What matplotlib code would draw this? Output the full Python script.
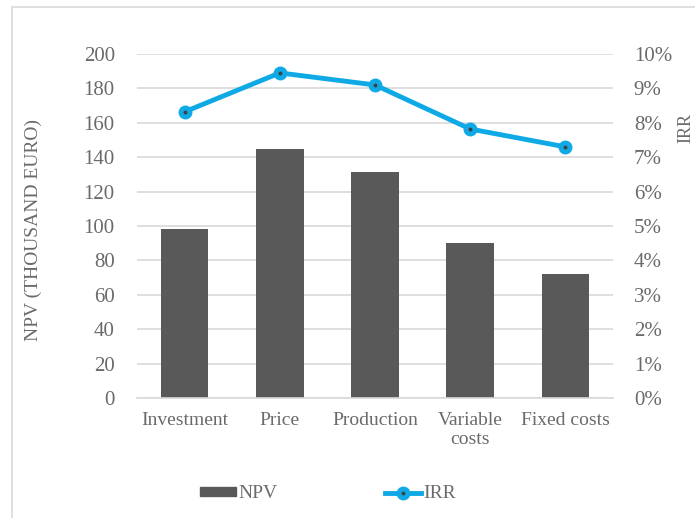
import matplotlib.pyplot as plt
from matplotlib.patches import Rectangle
from matplotlib.lines import Line2D
from matplotlib.ticker import PercentFormatter

categories = ['Investment', 'Price', 'Production', 'Variable\ncosts', 'Fixed costs']
npv = [98, 145, 131.5, 90, 72]
irr = [8.32, 9.45, 9.1, 7.82, 7.3]

grey_text = '#6a6a6a'
bar_color = '#595959'
line_color = '#0FAAE6'

plt.rcParams['font.family'] = ['Liberation Serif', 'DejaVu Serif']
plt.rcParams['font.size'] = 14

fig = plt.figure(figsize=(6.95, 5.18), dpi=100)
ax = fig.add_axes([137 / 695, 1 - 398 / 518, 476 / 695, 344 / 518])

# chart border (cropped at right/bottom like the reference)
fig.patches.append(Rectangle((12 / 695, -0.05), 1.0, 1 - 7 / 518 + 0.05,
                             transform=fig.transFigure, fill=False,
                             edgecolor='#d9d9d9', linewidth=1.2))

x = range(len(categories))
ax.bar(x, npv, width=0.5, color=bar_color, zorder=2)
ax.set_xlim(-0.5, len(categories) - 0.5)
ax.set_ylim(0, 200)
ax.set_yticks(range(0, 201, 20))
ax.yaxis.grid(True, color='#d9d9d9', linewidth=1.2, zorder=0)
ax.set_axisbelow(True)
ax.set_xticks(list(x))
ax.set_xticklabels(categories, color=grey_text, linespacing=1.15)
ax.tick_params(axis='both', length=0, colors=grey_text)
ax.tick_params(axis='y', pad=16, labelsize=15)
ax.tick_params(axis='x', pad=10, labelsize=14)
for s in ['top', 'right', 'left']:
    ax.spines[s].set_visible(False)
ax.spines['bottom'].set_color('#d9d9d9')
ax.spines['bottom'].set_linewidth(1.2)

ax2 = ax.twinx()
ax2.plot(x, irr, color=line_color, linewidth=3.5, marker='o', markersize=9,
         markerfacecolor=line_color, markeredgecolor=line_color, zorder=3)
ax2.plot(x, irr, linestyle='none', marker='o', markersize=1.8, color='#404040', zorder=4)
ax2.set_ylim(0, 10)
ax2.set_yticks(range(0, 11))
ax2.yaxis.set_major_formatter(PercentFormatter(decimals=0))
ax2.tick_params(axis='y', length=0, colors=grey_text, labelsize=15, pad=15)
for s in ax2.spines.values():
    s.set_visible(False)

fig.text(33 / 695, 1 - 230 / 518, 'NPV (THOUSAND EURO)', rotation=90,
         ha='center', va='center', color=grey_text, fontsize=14)
fig.text(686 / 695, 1 - 128 / 518, 'IRR', rotation=90,
         ha='center', va='center', color=grey_text, fontsize=13)

npv_handle = Rectangle((0, 0), 1, 1, color=bar_color)
irr_handle = (Line2D([0], [0], color=line_color, linewidth=3.5, marker='o',
                     markersize=9),
              Line2D([0], [0], linestyle='none', marker='o', markersize=1.8,
                     color='#404040'))
leg = fig.legend([npv_handle, irr_handle], ['NPV', 'IRR'], loc='center', ncol=2,
                 bbox_to_anchor=(328 / 695, 1 - 494 / 518), frameon=False,
                 columnspacing=5.5, handlelength=1.85, handleheight=0.4,
                 handletextpad=0.15, fontsize=14)
for t in leg.get_texts():
    t.set_color(grey_text)

fig.savefig('out.png', dpi=100)
